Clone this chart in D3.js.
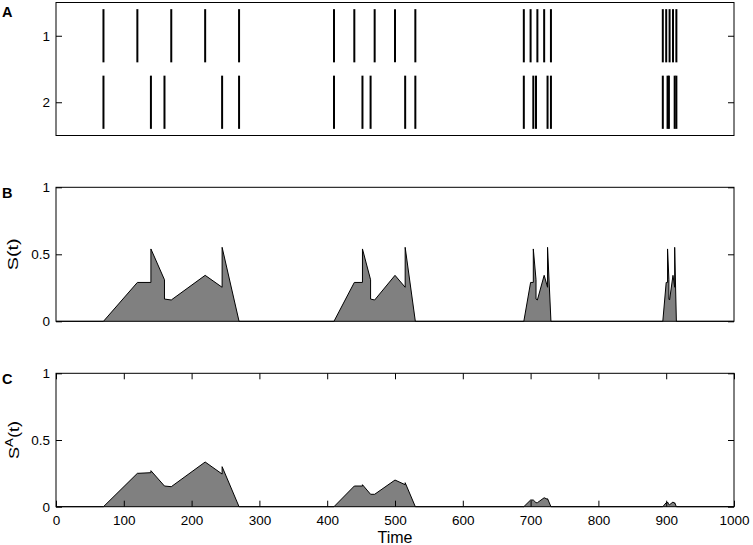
<!DOCTYPE html>
<html>
<head>
<meta charset="utf-8">
<script src="https://cdn.jsdelivr.net/npm/d3@7"></script>
<style>
  body { margin: 0; background: #fff; }
  text { font-family: "Liberation Sans", Arial, Helvetica, sans-serif; }
</style>
</head>
<body>
<script>
// spike trains (time of each spike)
var train1 = [70, 120, 170, 220, 270, 410, 440, 470, 500, 530, 690, 700, 710, 720, 730, 895, 900, 905, 910, 915];
var train2 = [70, 140, 160, 245, 270, 410, 452, 464, 515, 530, 690, 704, 708, 725, 730, 895, 902, 904, 912.5, 915];
var trainNames = ["1", "2"];

// S(t) profile, [time, value]
var sProfile = [
  [0, 0], [70, 0], [120, 0.29], [140, 0.29], [140, 0.54], [160, 0.31], [160, 0.166], [170, 0.159], [220, 0.343], [245, 0.254], [245, 0.552], [270, 0],
  [410, 0], [440, 0.29], [452, 0.29], [452, 0.54], [464, 0.31], [464, 0.166], [470, 0.159], [500, 0.343], [515, 0.254], [515, 0.552], [530, 0],
  [690, 0], [700, 0.29], [704, 0.29], [704, 0.54], [708, 0.31], [708, 0.166], [710, 0.159], [720, 0.343], [725, 0.254], [725, 0.552], [730, 0],
  [895, 0], [900, 0.29], [902, 0.29], [902, 0.54], [904, 0.31], [904, 0.166], [905, 0.159], [910, 0.343], [912.5, 0.254], [912.5, 0.552], [915, 0],
  [1000, 0]
];

// S^A(t) profile, [time, value]
var saProfile = [
  [0, 0], [70, 0], [120, 0.25], [140, 0.255], [140, 0.27], [160, 0.155], [170, 0.15], [220, 0.335], [245, 0.245], [245, 0.3], [270, 0],
  [410, 0], [440, 0.155], [452, 0.155], [452, 0.165], [464, 0.093], [470, 0.093], [500, 0.2], [515, 0.165], [515, 0.18], [530, 0],
  [690, 0], [700, 0.05], [704, 0.05], [708, 0.03], [710, 0.03], [720, 0.067], [725, 0.055], [725, 0.06], [730, 0],
  [895, 0], [900, 0.03], [902, 0.03], [902, 0.035], [904, 0.015], [905, 0.015], [910, 0.035], [912.5, 0.025], [912.5, 0.03], [915, 0],
  [1000, 0]
];

var xTicks = [0, 100, 200, 300, 400, 500, 600, 700, 800, 900, 1000];
var yTicks = [0, 0.5, 1];

var w = 753, h = 545;
var left = 56, right = 734;

var svg = d3.select("body").append("svg").attr("width", w).attr("height", h);

var x = d3.scaleLinear().domain([0, 1000]).range([left, right]);

function frame(top, bottom) {
  svg.append("rect")
    .attr("x", left).attr("y", top)
    .attr("width", right - left).attr("height", bottom - top)
    .attr("fill", "none").attr("stroke", "#000").attr("stroke-width", 1);
}

function yAxes(y, ticks, fmt) {
  var gl = svg.append("g").attr("transform", "translate(" + left + ",0)")
    .call(d3.axisLeft(y).tickValues(ticks).tickSize(-6).tickPadding(6).tickFormat(fmt));
  var gr = svg.append("g").attr("transform", "translate(" + right + ",0)")
    .call(d3.axisRight(y).tickValues(ticks).tickSize(-6).tickFormat(""));
  [gl, gr].forEach(function (g) {
    g.select(".domain").remove();
    g.attr("font-family", null).attr("font-size", 13.5);
    g.selectAll("line").attr("stroke", "#000");
    g.selectAll("text").attr("fill", "#000");
  });
}

function panelLabel(txt, yy) {
  svg.append("text").attr("x", 2).attr("y", yy)
    .attr("font-size", 14.5).attr("font-weight", "bold").text(txt);
}

// ---- panel A: spike trains
var yA = d3.scaleLinear().domain([0.5, 2.5]).range([2.5, 135.5]);
var spikes = [];
train1.forEach(function (t) { spikes.push({t: t, row: 1}); });
train2.forEach(function (t) { spikes.push({t: t, row: 2}); });

svg.append("g").selectAll("line")
  .data(spikes)
  .enter().append("line")
    .attr("x1", function (d) { return x(d.t); })
    .attr("x2", function (d) { return x(d.t); })
    .attr("y1", function (d) { return yA(d.row - 0.4); })
    .attr("y2", function (d) { return yA(d.row + 0.4); })
    .attr("stroke", "#000")
    .attr("stroke-width", 2);

yAxes(yA, [1, 2], function (d) { return trainNames[d - 1]; });
frame(2.5, 135.5);
panelLabel("A", 17);

// ---- profiles
function profilePanel(data, top, bottom, label, ylab, xaxis) {
  var y = d3.scaleLinear().domain([0, 1]).range([bottom, top]);

  svg.append("path")
    .datum(data)
    .attr("d", d3.area().x(function (d) { return x(d[0]); }).y0(y(0)).y1(function (d) { return y(d[1]); }))
    .attr("fill", "#808080");
  svg.append("path")
    .datum(data)
    .attr("d", d3.line().x(function (d) { return x(d[0]); }).y(function (d) { return y(d[1]); }))
    .attr("fill", "none").attr("stroke", "#000").attr("stroke-width", 1)
    .attr("stroke-linejoin", "miter");

  yAxes(y, yTicks, function (d) { return d; });

  if (xaxis) {
    var gb = svg.append("g").attr("transform", "translate(0," + bottom + ")")
      .call(d3.axisBottom(x).tickValues(xTicks).tickSize(-6).tickPadding(9).tickFormat(function (d) { return d; }));
    var gt = svg.append("g").attr("transform", "translate(0," + top + ")")
      .call(d3.axisTop(x).tickValues(xTicks).tickSize(-6).tickFormat(""));
    [gb, gt].forEach(function (g) {
      g.select(".domain").remove();
      g.attr("font-family", null).attr("font-size", 13.5);
      g.selectAll("line").attr("stroke", "#000");
      g.selectAll("text").attr("fill", "#000");
    });
  }

  frame(top, bottom);
  panelLabel(label, top + 11);

  var t = svg.append("text")
    .attr("transform", "translate(" + ylab.x + "," + ((top + bottom) / 2) + ") rotate(-90)")
    .attr("text-anchor", "middle")
    .attr("font-size", 15)
    .attr("textLength", ylab.len)
    .attr("lengthAdjust", "spacingAndGlyphs");
  t.append("tspan").text("S");
  if (ylab.sup) {
    t.append("tspan").attr("font-size", 11).attr("dy", -6).text(ylab.sup);
    t.append("tspan").attr("dy", 6).text("(t)");
  } else {
    t.append("tspan").text("(t)");
  }
}

profilePanel(sProfile, 187.3, 321.3, "B", {x: 18, len: 32}, false);
profilePanel(saProfile, 373.3, 506.7, "C", {x: 19, len: 38, sup: "A"}, true);

svg.append("text")
  .attr("x", (left + right) / 2).attr("y", 543)
  .attr("text-anchor", "middle").attr("font-size", 16)
  .text("Time");
</script>
</body>
</html>
